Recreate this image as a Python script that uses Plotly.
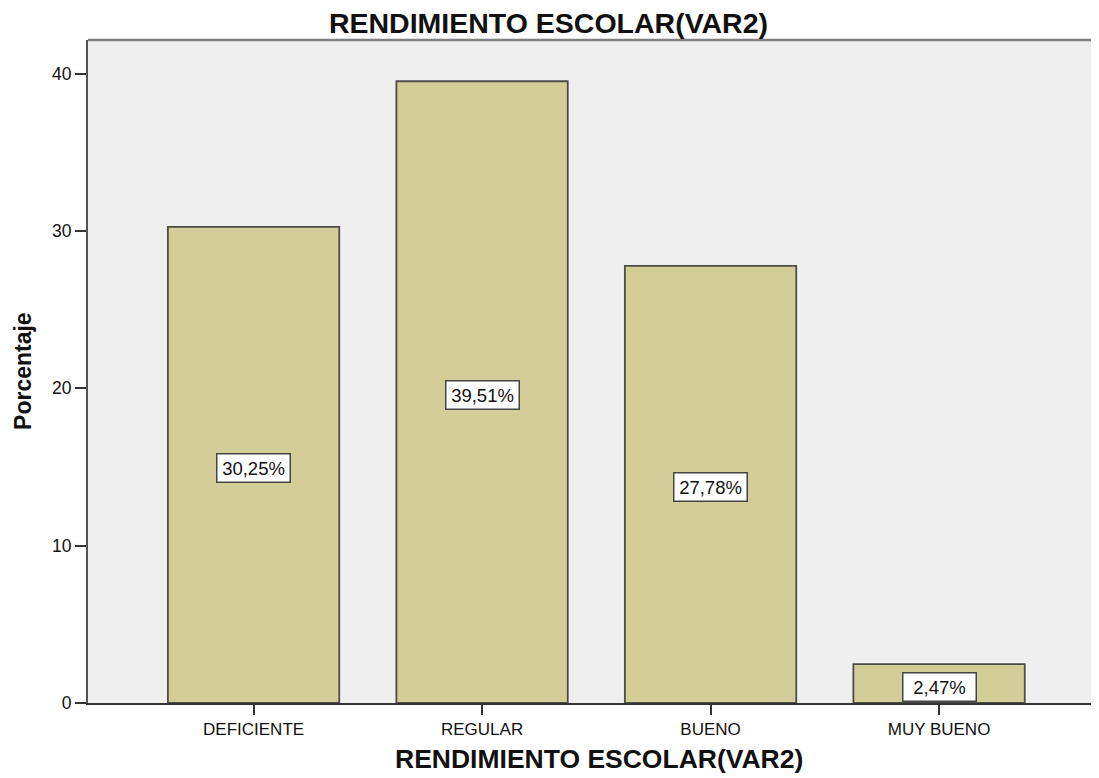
import plotly.graph_objects as go

categories = ["DEFICIENTE", "REGULAR", "BUENO", "MUY BUENO"]
values = [30.25, 39.51, 27.78, 2.47]
labels = ["30,25%", "39,51%", "27,78%", "2,47%"]
y_ticks = [0, 10, 20, 30, 40]

FONT = "Arial, Liberation Sans, sans-serif"

fig = go.Figure()
fig.add_trace(go.Bar(
    x=categories, y=values, width=0.75,
    marker=dict(color="#d3ce98", line=dict(color="#4d4d46", width=1.8)),
    hoverinfo="skip",
))

for c, v, t in zip(categories, values, labels):
    fig.add_annotation(
        x=c, y=v / 2, yshift=-3, text=t, showarrow=False,
        font=dict(family=FONT, size=18.5, color="#111111"),
        bgcolor="white", bordercolor="#444444", borderwidth=1.5, borderpad=1,
        width=70, height=25,
    )

# axis titles
fig.add_annotation(
    xref="paper", yref="paper", x=0.5054, y=-0.0845, xanchor="center", yanchor="middle",
    text="<b>RENDIMIENTO ESCOLAR(VAR2)</b>", showarrow=False,
    font=dict(family=FONT, size=26.5, color="#111111"),
)
fig.add_annotation(
    xref="paper", yref="paper", x=-0.0643, y=0.5008, xanchor="center", yanchor="middle",
    text="<b>Porcentaje</b>", showarrow=False, textangle=-90,
    font=dict(family=FONT, size=23, color="#111111"),
)

fig.update_layout(
    width=1091, height=770,
    margin=dict(l=80, r=0, t=32, b=75),
    paper_bgcolor="white", plot_bgcolor="#efefef",
    showlegend=False,
    title=dict(text="<b>RENDIMIENTO ESCOLAR(VAR2)</b>", x=0.4954, xanchor="center",
               y=0.9805, yanchor="middle",
               font=dict(family=FONT, size=28.5, color="#111111")),
    font=dict(family=FONT, color="#111111"),
)
fig.update_xaxes(
    range=[-0.7246, 3.7], showgrid=False, showline=True, linecolor="#333333", linewidth=2,
    ticks="outside", ticklen=10, tickcolor="#333333", tickwidth=1.5,
    tickfont=dict(family=FONT, size=17, color="#111111"),
)
fig.update_yaxes(
    range=[0, 42.13], showgrid=False, zeroline=False, showline=True, linecolor="#555555", linewidth=2,
    tickvals=y_ticks, ticks="outside", ticklen=11, tickcolor="#333333", tickwidth=1.5,
    tickfont=dict(family=FONT, size=17.5, color="#111111"),
)
# top border of the plot area
fig.add_shape(type="line", xref="paper", yref="paper", x0=0, x1=1, y0=1, y1=1,
              line=dict(color="#808080", width=2.5))

fig.write_html("out.html")
